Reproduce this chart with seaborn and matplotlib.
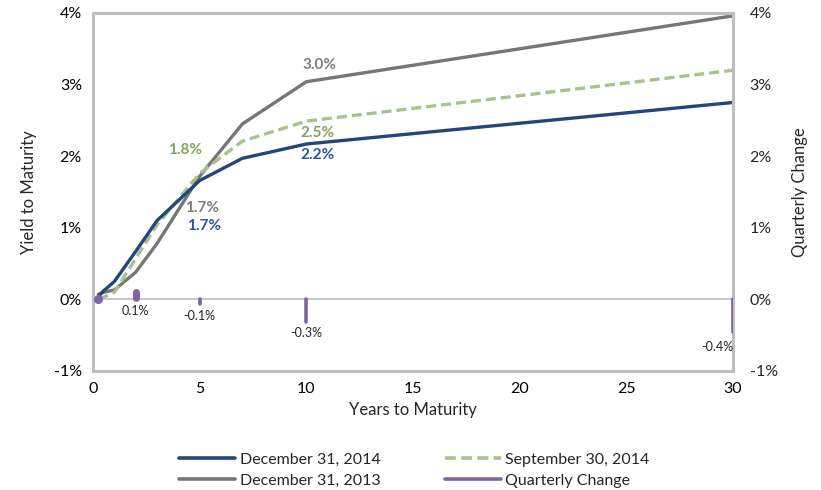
import matplotlib
matplotlib.use("Agg")
import matplotlib.pyplot as plt
import seaborn as sns
import pandas as pd
from matplotlib.lines import Line2D
from matplotlib.ticker import FuncFormatter

# ---- data ----
maturities = [0.25, 0.5, 1, 2, 3, 5, 7, 10, 30]
dec_2014 = [0.04, 0.12, 0.25, 0.67, 1.10, 1.66, 1.97, 2.17, 2.75]
sep_2014 = [0.02, 0.03, 0.10, 0.57, 1.04, 1.76, 2.21, 2.49, 3.20]
dec_2013 = [0.07, 0.10, 0.13, 0.38, 0.78, 1.72, 2.45, 3.04, 3.96]
change_maturities = [0.25, 2, 5, 10, 30]
quarterly_change = [0.02, 0.10, -0.07, -0.31, -0.45]
change_labels = ["", "0.1%", "-0.1%", "-0.3%", "-0.4%"]
series_names = ["December 31, 2014", "September 30, 2014", "December 31, 2013"]
x_ticks = [0, 5, 10, 15, 20, 25, 30]
y_ticks = [-1, 0, 1, 2, 3, 4]

sns.set_theme(style="white")
plt.rcParams["font.family"] = ["Lato", "DejaVu Sans"]

c_blue = "#22477A"
c_green = "#A9C18D"
c_gray = "#767676"
c_purple = "#8064A2"
spine_c = "#BFBFBF"

df = pd.DataFrame({
    "Maturity": maturities * 3,
    "Yield": dec_2014 + sep_2014 + dec_2013,
    "Series": [series_names[0]] * 9 + [series_names[1]] * 9 + [series_names[2]] * 9,
})

fig = plt.figure(figsize=(8.21, 4.90), dpi=100)
ax = fig.add_axes([0.1133, 0.2429, 0.7795, 0.7306])

sns.lineplot(data=df, x="Maturity", y="Yield", hue="Series", style="Series",
             hue_order=[series_names[2], series_names[1], series_names[0]],
             palette={series_names[0]: c_blue, series_names[1]: c_green, series_names[2]: c_gray},
             dashes={series_names[0]: "", series_names[1]: (3, 1.5), series_names[2]: ""},
             linewidth=2.4, ax=ax, legend=False, sort=False)

ax.set_xlim(0, 30)
ax.set_ylim(-1, 4)
ax.set_xticks(x_ticks)
ax.set_yticks(y_ticks)
ax.yaxis.set_major_formatter(FuncFormatter(lambda v, p: f"{v:.0f}%"))
ax.axhline(0, color=spine_c, lw=1.2, zorder=0)
for s in ax.spines.values():
    s.set_color(spine_c)
    s.set_linewidth(2.2)
ax.tick_params(length=0, labelsize=11.5, pad=8, colors="#000000")
ax.set_xlabel("Years to Maturity", fontsize=12, labelpad=4)
ax.set_ylabel("Yield to Maturity", fontsize=12, labelpad=12)

ax2 = ax.twinx()
ax2.set_ylim(-1, 4)
ax2.set_yticks(y_ticks)
ax2.yaxis.set_major_formatter(FuncFormatter(lambda v, p: f"{v:.0f}%"))
ax2.tick_params(length=0, labelsize=11.5, pad=12)
ax2.set_ylabel("Quarterly Change", fontsize=12, labelpad=10)
for s in ax2.spines.values():
    s.set_visible(False)
ax2.vlines(change_maturities, 0, quarterly_change, color=c_purple, lw=2.6,
           capstyle="round", zorder=5)
ax2.scatter([change_maturities[0]], [0], s=30, color=c_purple, zorder=6)
ax2.plot([change_maturities[1]] * 2, [0.02, quarterly_change[1]], color=c_purple,
         lw=5, solid_capstyle="round")
for xm, v, lab in zip(change_maturities, quarterly_change, change_labels):
    if lab:
        if xm >= 30:
            ax2.text(xm, min(v, 0) - 0.13, lab, ha="right", va="top", fontsize=9,
                     color="#262626")
        else:
            ax2.text(xm, min(v, 0) - 0.08, lab, ha="center", va="top", fontsize=9,
                     color="#262626")

# data labels
lab_kw = dict(fontsize=11, fontweight="bold", ha="center")
ax.text(4.3, 2.08, f"{sep_2014[5]:.1f}%", color="#86A05F", va="center", **lab_kw)
ax.text(5.1, 1.28, f"{dec_2013[5]:.1f}%", color="#7F7F7F", va="center", **lab_kw)
ax.text(5.2, 1.03, f"{dec_2014[5]:.1f}%", color="#2F5597", va="center", **lab_kw)
ax.text(10.6, 3.27, f"{dec_2013[7]:.1f}%", color="#7F7F7F", va="center", **lab_kw)
ax.text(10.5, 2.33, f"{sep_2014[7]:.1f}%", color="#86A05F", va="center", **lab_kw)
ax.text(10.5, 2.01, f"{dec_2014[7]:.1f}%", color="#2F5597", va="center", **lab_kw)

handles = [
    Line2D([], [], color=c_blue, lw=2.6),
    Line2D([], [], color=c_gray, lw=2.6),
    Line2D([], [], color=c_green, lw=2.6, dashes=(3, 1.5)),
    Line2D([], [], color=c_purple, lw=2.6),
]
labels = [series_names[0], series_names[2], series_names[1], "Quarterly Change"]
fig.legend(handles, labels, ncol=2, loc="lower center", bbox_to_anchor=(0.505, -0.025),
           frameon=False, fontsize=11.5, handlelength=3.5, handletextpad=0.3,
           columnspacing=4.0, labelspacing=0.45)

fig.savefig("out.png", dpi=100)
